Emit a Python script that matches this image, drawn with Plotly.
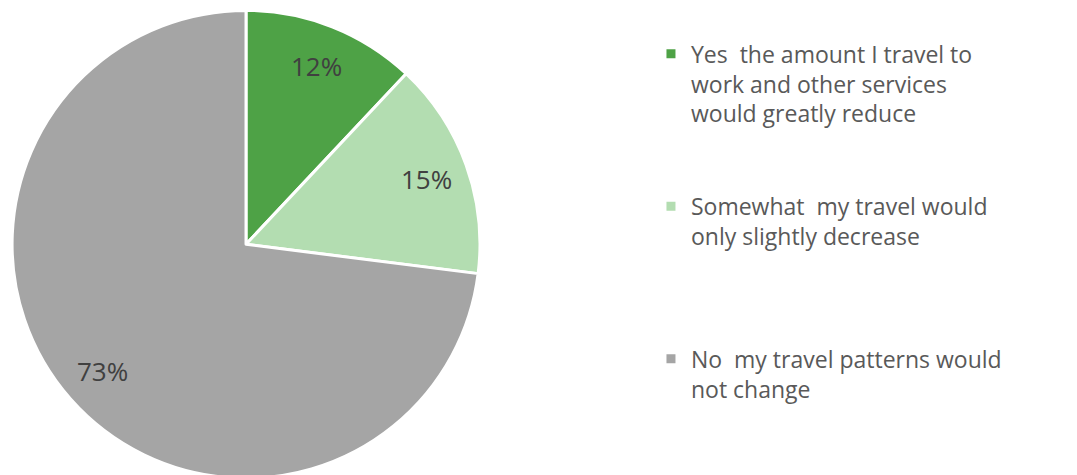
import math
import plotly.graph_objects as go

labels = [
    "Yes  the amount I travel to<br>work and other services<br>would greatly reduce",
    "Somewhat  my travel would<br>only slightly decrease",
    "No  my travel patterns would<br>not change",
]
values = [12, 15, 73]
colors = ["#4ea246", "#b3ddb1", "#a5a5a5"]

# pad entries with blank lines so the legend rows are evenly spaced like the original
pad = ["<br> <br> ", "<br> <br> <br> ", ""]
legend_labels = [lab + p for lab, p in zip(labels, pad)]

W, H = 1077, 475
dom_x = [0.0, 0.442]
dom_y = [0.01, 0.995]

fig = go.Figure(
    go.Pie(
        labels=legend_labels,
        values=values,
        sort=False,
        direction="clockwise",
        rotation=0,
        marker=dict(colors=colors, line=dict(color="white", width=3)),
        textinfo="none",
        hoverinfo="percent",
        domain=dict(x=dom_x, y=dom_y),
    )
)

# percentage labels sit out toward the rim, like the excel data labels
cx = (dom_x[0] + dom_x[1]) / 2 * W
cy = (dom_y[0] + dom_y[1]) / 2 * H
r = min((dom_x[1] - dom_x[0]) * W, (dom_y[1] - dom_y[0]) * H) / 2
total = sum(values)
start = 0
for v in values:
    mid = (start + v / 2) / total * 2 * math.pi
    start += v
    fig.add_annotation(
        x=(cx + 0.82 * r * math.sin(mid)) / W,
        y=(cy + 0.82 * r * math.cos(mid)) / H,
        xref="paper",
        yref="paper",
        xanchor="center",
        yanchor="middle",
        text=f"{round(v / total * 100)}%",
        showarrow=False,
        font=dict(size=26, color="#404040", family="Open Sans"),
    )

fig.update_layout(
    width=W,
    height=H,
    margin=dict(l=0, r=0, t=0, b=0),
    paper_bgcolor="white",
    plot_bgcolor="white",
    font=dict(family="Open Sans", color="#595959"),
    legend=dict(
        x=0.597,
        y=0.949,
        xanchor="left",
        yanchor="top",
        valign="top",
        font=dict(size=23, color="#595959", family="Open Sans"),
        itemwidth=30,
    ),
)

fig.write_html("out.html")
